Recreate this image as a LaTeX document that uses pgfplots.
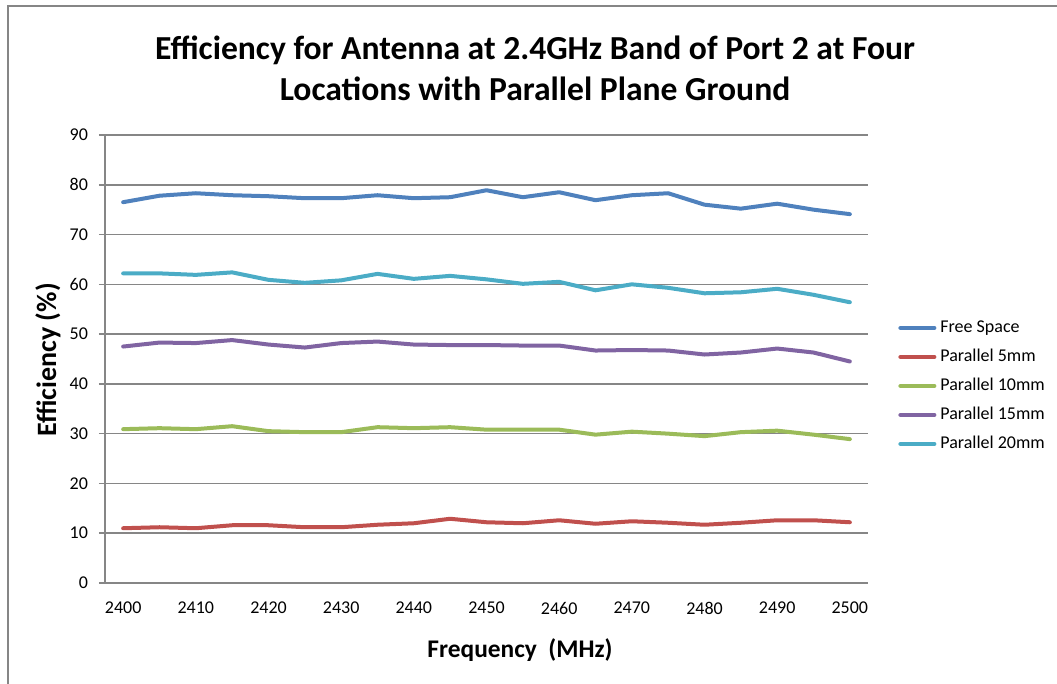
\documentclass[border=0pt]{standalone}
\usepackage{pgfplots}
\usepackage{pgfplotstable}
\pgfplotsset{compat=1.18}
\usepackage{fontspec}
\setmainfont{Carlito}

\definecolor{cFree}{HTML}{4F81BD}
\definecolor{cFive}{HTML}{C0504D}
\definecolor{cTen}{HTML}{9BBB59}
\definecolor{cFifteen}{HTML}{8064A2}
\definecolor{cTwenty}{HTML}{4BACC6}
\definecolor{gridgray}{HTML}{868686}

% efficiency (%) vs frequency (MHz), port 2
\pgfplotstableread{
freq free  p5   p10  p15  p20
2400 76.5 11.0 30.9 47.5 62.2
2405 77.8 11.2 31.1 48.3 62.2
2410 78.3 11.0 30.9 48.2 61.9
2415 77.9 11.6 31.5 48.8 62.4
2420 77.7 11.6 30.5 47.9 60.9
2425 77.3 11.2 30.3 47.3 60.3
2430 77.3 11.2 30.3 48.2 60.8
2435 77.9 11.7 31.3 48.5 62.1
2440 77.3 12.0 31.1 47.9 61.1
2445 77.5 12.9 31.3 47.8 61.7
2450 78.9 12.2 30.8 47.8 61.0
2455 77.5 12.0 30.8 47.7 60.1
2460 78.5 12.6 30.8 47.7 60.5
2465 76.9 11.9 29.8 46.7 58.8
2470 77.9 12.4 30.4 46.8 60.0
2475 78.3 12.1 30.0 46.7 59.3
2480 76.0 11.7 29.5 45.9 58.2
2485 75.2 12.1 30.3 46.3 58.4
2490 76.2 12.6 30.6 47.1 59.1
2495 75.0 12.6 29.8 46.3 57.9
2500 74.1 12.2 28.9 44.5 56.4
}\effdata

\begin{document}
\begin{tikzpicture}
\useasboundingbox (-52.5pt,-50.5pt) rectangle (476pt,291.5pt);
\draw[gridgray,line width=0.75pt] (-48.5pt,-51pt) -- (-48.5pt,288.5pt) -- (477pt,288.5pt);
\node[align=center,font=\fontsize{16.8}{20.5}\selectfont\bfseries] at (215pt,257.5pt)
  {Efficiency for Antenna at 2.4GHz Band of Port 2 at Four\\Locations with Parallel Plane Ground};
\begin{axis}[
  at={(0,0)}, anchor=south west,
  scale only axis, width=381.5pt, height=224pt,
  xmin=2397.5, xmax=2502.5, ymin=0, ymax=90,
  xtick={2400,2410,...,2500}, ytick={0,10,...,90},
  /pgf/number format/assume math mode=true,
  /pgf/number format/set thousands separator={},
  axis x line=bottom, axis y line=left,
  axis line style={gridgray,line width=0.75pt,-},
  ymajorgrids, grid style={gridgray,line width=0.75pt},
  major x tick style={draw=none},
  major y tick style={gridgray,line width=0.75pt},
  tick align=outside, major tick length=3pt,
  tick label style={font=\fontsize{9}{10}\selectfont},
  xticklabel style={yshift=-3pt},
  yticklabel style={xshift=-2pt},
  xlabel={Frequency\ \ (MHz)}, ylabel={Efficiency (\%)},
  xlabel style={font=\fontsize{12.7}{14}\selectfont\bfseries,
    at={(axis description cs:0.544,-0.1496)},anchor=center},
  ylabel style={font=\fontsize{14}{15}\selectfont\bfseries,
    at={(axis description cs:-0.0747,0.498)},anchor=center,rotate=0},
  legend style={at={(axis description cs:1.0393,0.587)},anchor=north west,
    draw=none,fill=none,inner sep=0pt,
    font=\fontsize{9}{10}\selectfont,
    nodes={inner sep=0pt,text height=6pt,text depth=1.5pt},
    row sep=7pt, column sep=2pt},
  legend cell align=left,
  legend image code/.code={\draw[#1,line width=2pt,line cap=round] (0pt,0pt) -- (17pt,0pt);},
  every axis plot/.append style={line width=2pt,line join=round,line cap=round,mark=none},
]
\addplot[cFree] table[x=freq,y=free] {\effdata};
\addplot[cFive] table[x=freq,y=p5] {\effdata};
\addplot[cTen] table[x=freq,y=p10] {\effdata};
\addplot[cFifteen] table[x=freq,y=p15] {\effdata};
\addplot[cTwenty] table[x=freq,y=p20] {\effdata};
\legend{Free Space,Parallel 5mm,Parallel 10mm,Parallel 15mm,Parallel 20mm}
\end{axis}
\end{tikzpicture}
\end{document}
